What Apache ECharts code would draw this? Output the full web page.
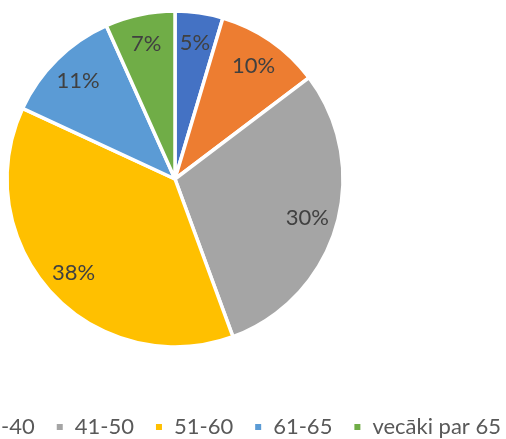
<!DOCTYPE html>
<html>
<head>
<meta charset="utf-8">
<script src="https://cdn.jsdelivr.net/npm/echarts@6/dist/echarts.min.js"></script>
<style>
  html, body { margin: 0; padding: 0; background: #fff; }
  #chart { width: 506px; height: 439px; }
</style>
</head>
<body>
<div id="chart"></div>
<script>
  // age groups and their shares
  var groups = ['līdz 30', '31-40', '41-50', '51-60', '61-65', 'vecāki par 65'];
  var shares = [4.6, 10.1, 29.7, 37.5, 11.4, 6.7];
  var colors = ['#4472C4', '#ED7D31', '#A5A5A5', '#FFC000', '#5B9BD5', '#70AD47'];

  var pieData = groups.map(function (g, i) {
    return { name: g, value: shares[i] };
  });

  var chart = echarts.init(document.getElementById('chart'));
  var option = {
    animation: false,
    color: colors,
    legend: {
      data: groups,
      right: 5,
      top: 415,
      padding: 0,
      width: 1200,   // no wrapping, the first items run off the left edge like in the original
      icon: 'rect',
      itemWidth: 8,
      itemHeight: 8,
      itemGap: 20,
      selectedMode: false,
      textStyle: {
        color: '#595959',
        fontFamily: 'Lato',
        fontSize: 22,
        lineHeight: 24,
        padding: [0, 0, 0, 6]
      }
    },
    series: [
      {
        // the visible pie
        type: 'pie',
        center: [175, 179],
        radius: 168,
        startAngle: 90,
        silent: true,
        data: pieData,
        itemStyle: { borderColor: '#fff', borderWidth: 3.5 },
        label: { show: false },
        labelLine: { show: false }
      },
      {
        // transparent ring only used to place the percent labels further out
        type: 'pie',
        center: [175, 179],
        radius: [106, 164],
        startAngle: 90,
        silent: true,
        data: pieData,
        itemStyle: { color: 'rgba(0,0,0,0)' },
        label: {
          show: true,
          position: 'inside',
          color: '#404040',
          fontFamily: 'Lato',
          fontSize: 22,
          formatter: function (p) { return Math.round(p.percent) + '%'; }
        },
        labelLine: { show: false }
      }
    ]
  };
  chart.setOption(option);
</script>
</body>
</html>
